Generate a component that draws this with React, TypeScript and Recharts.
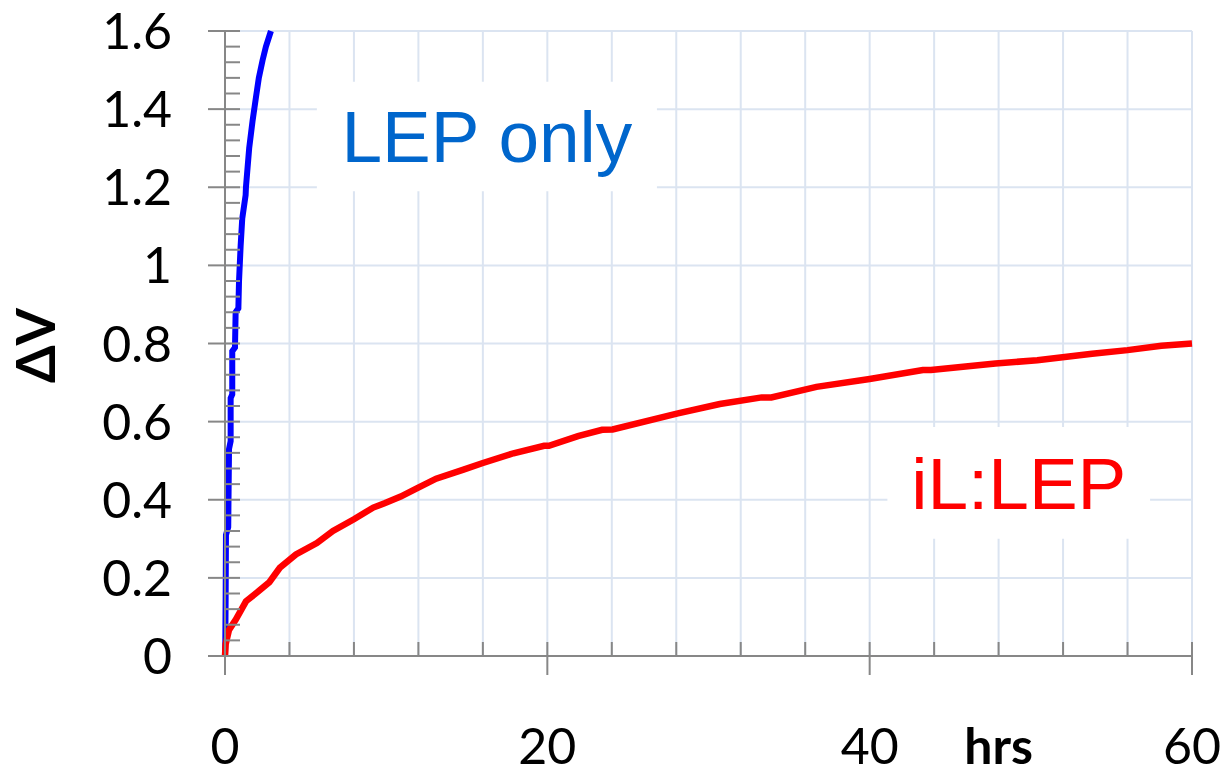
import { LineChart, Line, XAxis, YAxis, CartesianGrid, ReferenceArea, Label } from "recharts";

// LEP only (blue)
const LEP_ONLY_HRS = [0, 0.02, 0.04, 0.06, 0.2, 0.25, 0.35, 0.35, 0.45, 0.45, 0.62, 0.66, 0.83, 0.87, 0.97, 1.07, 1.28, 1.3, 1.5, 1.71, 1.92, 2.1, 2.33, 2.54, 2.85];
const LEP_ONLY_DV = [0, 0.04, 0.15, 0.31, 0.33, 0.53, 0.55, 0.66, 0.67, 0.78, 0.79, 0.88, 0.89, 0.96, 1.05, 1.12, 1.18, 1.2, 1.3, 1.37, 1.43, 1.48, 1.525, 1.56, 1.6];

// iL:LEP (red)
const IL_LEP_HRS = [0, 0.04, 0.25, 0.67, 1.3, 2.0, 2.75, 3.4, 4.4, 5.7, 6.7, 8.0, 9.2, 9.9, 10.9, 11.9, 13.1, 14.8, 16, 17.9, 19.8, 20.1, 21.9, 23.4, 24.05, 28.1, 30.7, 33.3, 33.9, 36.7, 40.0, 43.3, 43.8, 47.8, 50.4, 53.8, 56.0, 58.1, 60];
const IL_LEP_DV = [0, 0.03, 0.067, 0.093, 0.14, 0.163, 0.189, 0.226, 0.26, 0.289, 0.32, 0.35, 0.38, 0.391, 0.408, 0.429, 0.454, 0.477, 0.494, 0.519, 0.538, 0.538, 0.563, 0.579, 0.58, 0.621, 0.645, 0.662, 0.662, 0.689, 0.709, 0.732, 0.732, 0.749, 0.757, 0.774, 0.783, 0.794, 0.8];

const X_TICKS = [0, 4, 8, 12, 16, 20, 24, 28, 32, 36, 40, 44, 48, 52, 56, 60];
const X_LABELLED = [0, 20, 40, 60];
const Y_MAJOR = [0, 0.2, 0.4, 0.6, 0.8, 1, 1.2, 1.4, 1.6];
const Y_TICKS = [
  0, 0.04, 0.08, 0.12, 0.16, 0.2, 0.24, 0.28, 0.32, 0.36, 0.4, 0.44, 0.48, 0.52,
  0.56, 0.6, 0.64, 0.68, 0.72, 0.76, 0.8, 0.84, 0.88, 0.92, 0.96, 1, 1.04, 1.08,
  1.12, 1.16, 1.2, 1.24, 1.28, 1.32, 1.36, 1.4, 1.44, 1.48, 1.52, 1.56, 1.6,
];

// white label boxes, in data units
const LEP_ONLY_BOX = { x1: 5.7, x2: 26.8, y1: 1.19, y2: 1.47 };
const IL_LEP_BOX = { x1: 41.1, x2: 57.4, y1: 0.3, y2: 0.586 };

const lepOnly = LEP_ONLY_HRS.map((x, i) => ({ x, v: LEP_ONLY_DV[i] }));
const ilLep = IL_LEP_HRS.map((x, i) => ({ x, v: IL_LEP_DV[i] }));

const W = 1224;
const H = 774;
const MARGIN = { top: 31, right: 32, bottom: 0, left: 0 };
const Y_AXIS_W = 225;
const X_AXIS_H = 118;
const AXIS_X = MARGIN.left + Y_AXIS_W;
const AXIS_Y = H - MARGIN.bottom - X_AXIS_H;
const AXIS_COLOR = "#878787";
const GRID_COLOR = "#dbe4f1";
const NUM_FONT = "Lato, 'Noto Sans', sans-serif";
const X_LABEL_BASE = AXIS_Y + 108;

const isMajorY = (v: number) => Y_MAJOR.some((m) => Math.abs(m - v) < 1e-6);

function YTick(props: any) {
  const { y, payload } = props;
  const v = payload.value as number;
  const major = isMajorY(v);
  return (
    <g>
      <line x1={major ? AXIS_X - 17 : AXIS_X} x2={AXIS_X + 15} y1={y} y2={y} stroke={AXIS_COLOR} strokeWidth={2} />
      {major && (
        <text x={AXIS_X - 53} y={y} dy="0.36em" textAnchor="end" fontSize={50} fontFamily={NUM_FONT} fill="#000">
          {String(Number(v.toFixed(1)))}
        </text>
      )}
    </g>
  );
}

function XTick(props: any) {
  const { x, payload } = props;
  const v = payload.value as number;
  const major = X_LABELLED.includes(v);
  return (
    <g>
      <line x1={x} x2={x} y1={AXIS_Y - 14} y2={major ? AXIS_Y + 19 : AXIS_Y} stroke={AXIS_COLOR} strokeWidth={2} />
      {major && (
        <text x={x} y={X_LABEL_BASE} textAnchor="middle" fontSize={50} fontFamily={NUM_FONT} fill="#000">
          {v}
        </text>
      )}
    </g>
  );
}

function DeltaVLabel(props: any) {
  const vb = props.viewBox;
  const cx = 36;
  const cy = vb.y + vb.height / 2 + 2;
  return (
    <text
      x={cx}
      y={cy}
      transform={`rotate(-90 ${cx} ${cy})`}
      textAnchor="middle"
      dy="0.36em"
      fontSize={54}
      fontWeight="bold"
      fontFamily={NUM_FONT}
      fill="#000"
    >
      ΔV
    </text>
  );
}

function HrsLabel(props: any) {
  const vb = props.viewBox;
  return (
    <text x={vb.x + vb.width * 0.8} y={X_LABEL_BASE} textAnchor="middle" fontSize={50} fontWeight="bold" fontFamily={NUM_FONT} fill="#000">
      hrs
    </text>
  );
}

export default function App() {
  return (
    <div style={{ position: "absolute", left: 0, top: 0, background: "#fff" }}>
      <LineChart width={W} height={H} margin={MARGIN}>
        <CartesianGrid stroke={GRID_COLOR} strokeWidth={2} horizontalValues={Y_MAJOR} />
        <XAxis
          type="number"
          dataKey="x"
          domain={[0, 60]}
          ticks={X_TICKS}
          interval={0}
          height={X_AXIS_H}
          tickLine={false}
          axisLine={{ stroke: AXIS_COLOR, strokeWidth: 2 }}
          tick={<XTick />}
        >
          <Label content={<HrsLabel />} />
        </XAxis>
        <YAxis
          type="number"
          domain={[0, 1.6]}
          ticks={Y_TICKS}
          interval={0}
          width={Y_AXIS_W}
          tickLine={false}
          axisLine={{ stroke: AXIS_COLOR, strokeWidth: 2 }}
          tick={<YTick />}
        >
          <Label content={<DeltaVLabel />} />
        </YAxis>
        <ReferenceArea
          x1={LEP_ONLY_BOX.x1}
          x2={LEP_ONLY_BOX.x2}
          y1={LEP_ONLY_BOX.y1}
          y2={LEP_ONLY_BOX.y2}
          fill="#fff"
          fillOpacity={1}
          stroke="none"
          label={{ value: "LEP only", position: "center", fill: "#0066cc", fontSize: 73, fontFamily: "'Liberation Sans', Arial, sans-serif" }}
        />
        <ReferenceArea
          x1={IL_LEP_BOX.x1}
          x2={IL_LEP_BOX.x2}
          y1={IL_LEP_BOX.y1}
          y2={IL_LEP_BOX.y2}
          fill="#fff"
          fillOpacity={1}
          stroke="none"
          label={{ value: "iL:LEP", position: "center", fill: "#ff0000", fontSize: 73, fontFamily: "'Liberation Sans', Arial, sans-serif" }}
        />
        <Line data={lepOnly} dataKey="v" type="linear" stroke="#0000ff" strokeWidth={6} dot={false} isAnimationActive={false} />
        <Line data={ilLep} dataKey="v" type="linear" stroke="#ff0000" strokeWidth={6.5} dot={false} isAnimationActive={false} />
      </LineChart>
    </div>
  );
}
